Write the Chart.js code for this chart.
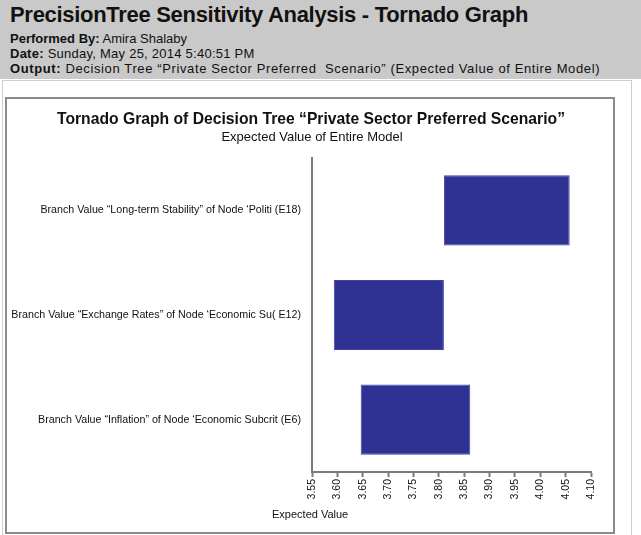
<!DOCTYPE html>
<html>
<head>
<meta charset="utf-8">
<script src="https://cdn.jsdelivr.net/npm/chart.js@4/dist/chart.umd.min.js"></script>
<style>
  html, body { margin: 0; padding: 0; background: #fff; }
  body { width: 641px; height: 535px; position: relative; overflow: hidden;
         font-family: "Liberation Sans", Arial, Helvetica, sans-serif; color: #111; }
  #header { position: absolute; left: 0; top: 0; width: 641px; height: 79px; background: #c9c9c9; }
  #header h1 { position: absolute; left: 10px; top: 2px; margin: 0; font-size: 22px; font-weight: bold; letter-spacing: -0.3px; white-space: nowrap; }
  #header .line { position: absolute; left: 10px; font-size: 13px; white-space: nowrap; }
  #header b { font-weight: bold; }
  #outer { position: absolute; left: 2px; top: 80px; width: 630px; height: 460px; border: 1px solid #cfcfcf; box-sizing: border-box; }
  #frame { position: absolute; left: 5px; top: 97px; width: 610px; height: 437px; border: 2px solid #8a8a8a; box-sizing: border-box; background: #fff; }
  #chartWrap { position: absolute; left: 8px; top: 100px; width: 604px; height: 430px; }
  .ctitle { position: absolute; white-space: nowrap; transform: translateX(-50%); text-align: center; }
  #chartTitle { left: 311px; top: 110px; font-size: 15.7px; font-weight: bold; }
  #chartSub { left: 312px; top: 129px; font-size: 13px; }
  #xTitle { position: absolute; left: 272px; top: 508px; font-size: 11px; white-space: nowrap; }
</style>
</head>
<body>
<div id="header">
  <h1>PrecisionTree Sensitivity Analysis - Tornado Graph</h1>
  <div class="line" style="top:31px"><b>Performed By:</b> Amira Shalaby</div>
  <div class="line" style="top:46px; letter-spacing:0.25px"><b>Date:</b> Sunday, May 25, 2014 5:40:51 PM</div>
  <div class="line" style="top:61px; letter-spacing:0.62px"><b>Output:</b> Decision Tree “Private Sector Preferred&nbsp; Scenario” (Expected Value of Entire Model)</div>
</div>
<div id="outer"></div>
<div id="frame"></div>
<div id="chartWrap"><canvas id="tornado" width="604" height="430"></canvas></div>
<div class="ctitle" id="chartTitle">Tornado Graph of Decision Tree “Private Sector Preferred Scenario”</div>
<div class="ctitle" id="chartSub">Expected Value of Entire Model</div>
<div id="xTitle">Expected Value</div>
<script>
// Inputs varied in the sensitivity run
const categories = [
  'Branch Value “Long-term Stability” of Node ‘Politi (E18)',
  'Branch Value “Exchange Rates” of Node ‘Economic Su( E12)',
  'Branch Value “Inflation” of Node ‘Economic Subcrit (E6)'
];
// Expected value of the whole model at the low and high end of each input
const lowValues  = [3.81, 3.593, 3.646];
const highValues = [4.058, 3.81, 3.862];
// Horizontal axis range
const axisMin = 3.55;
const axisMax = 4.10;
const axisStep = 0.05;

const ranges = categories.map((c, i) => [lowValues[i], highValues[i]]);
const FONT = '"Liberation Sans", Arial, sans-serif';

new Chart(document.getElementById('tornado'), {
  type: 'bar',
  data: {
    labels: categories,
    datasets: [{
      data: ranges,
      backgroundColor: '#2f3293',
      borderColor: '#4144a6',
      borderWidth: 1,
      borderSkipped: false,
      barPercentage: 0.67,
      categoryPercentage: 1
    }]
  },
  options: {
    indexAxis: 'y',
    responsive: false,
    animation: false,
    layout: { padding: { left: 0, right: 21, top: 58, bottom: 0 } },
    plugins: {
      legend: { display: false },
      tooltip: { enabled: false },
      title: { display: false },
      subtitle: { display: false }
    },
    scales: {
      y: {
        afterFit: (scale) => { scale.width = 304; },
        grid: { display: false, drawTicks: false },
        border: { display: true, color: '#7a7a7a', width: 2 },
        ticks: {
          color: '#111',
          padding: 11,
          font: { family: FONT, size: 10.7 }
        }
      },
      x: {
        min: axisMin,
        max: axisMax,
        afterFit: (scale) => { scale.height = 58; },
        grid: { drawOnChartArea: false, drawTicks: true, tickLength: 5, color: '#7a7a7a', tickWidth: 2 },
        border: { display: true, color: '#7a7a7a', width: 2 },
        ticks: {
          stepSize: axisStep,
          autoSkip: false,
          minRotation: 90,
          maxRotation: 90,
          padding: 2,
          color: '#111',
          font: { family: FONT, size: 10.5 },
          callback: (v) => Number(v).toFixed(2)
        }
      }
    }
  }
});
</script>
</body>
</html>
